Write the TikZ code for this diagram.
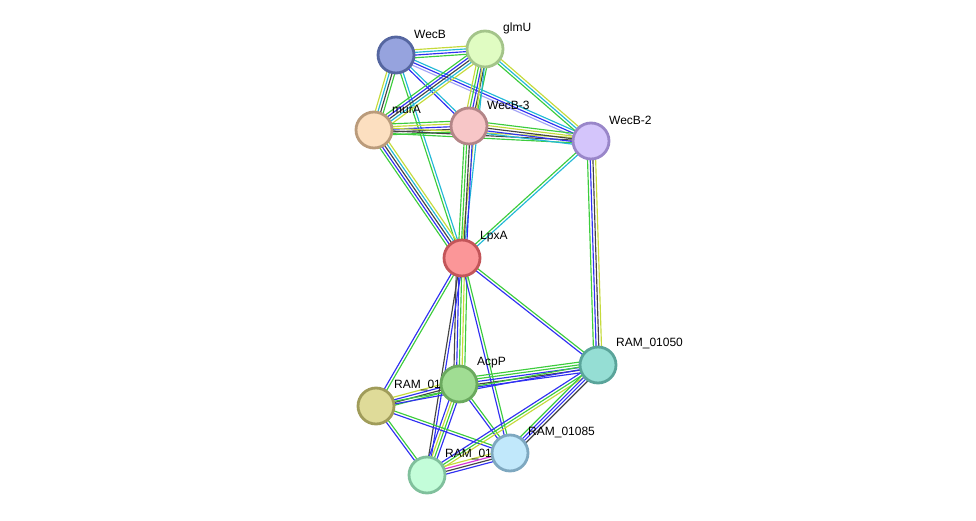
\documentclass[tikz,border=0pt]{standalone}
\usepackage{fontspec}
\setmainfont{Liberation Sans}
\usetikzlibrary{calc,backgrounds}
% evidence colours
\definecolor{evgreen}{HTML}{3DCC3D}
\definecolor{evblue}{HTML}{3030F2}
\definecolor{evcyan}{HTML}{22B8D6}
\definecolor{evyellow}{HTML}{C5DA3A}
\definecolor{evblack}{HTML}{444444}
\definecolor{evlav}{HTML}{A3A3F5}
\definecolor{evmag}{HTML}{D633D6}
% protein colours
\definecolor{wecbfill}{HTML}{96A3DE}\definecolor{wecbdraw}{HTML}{5566A0}
\definecolor{glmufill}{HTML}{E0FCC2}\definecolor{glmudraw}{HTML}{A4C48A}
\definecolor{murafill}{HTML}{FCDFC0}\definecolor{muradraw}{HTML}{BA9B7B}
\definecolor{wecbthfill}{HTML}{F7C6C7}\definecolor{wecbthdraw}{HTML}{B38587}
\definecolor{wecbtwfill}{HTML}{D4C5FB}\definecolor{wecbtwdraw}{HTML}{9986C9}
\definecolor{lpxafill}{HTML}{FB9698}\definecolor{lpxadraw}{HTML}{C35559}
\definecolor{ramafill}{HTML}{95DED4}\definecolor{ramadraw}{HTML}{5AA49A}
\definecolor{acppfill}{HTML}{A0DD93}\definecolor{acppdraw}{HTML}{6AA95E}
\definecolor{rambfill}{HTML}{DFDB99}\definecolor{rambdraw}{HTML}{A09C5A}
\definecolor{ramcfill}{HTML}{C1E8FB}\definecolor{ramcdraw}{HTML}{7EA8C0}
\definecolor{ramdfill}{HTML}{C3FDD9}\definecolor{ramddraw}{HTML}{80C09C}

% parallel evidence lines between two proteins
\newcommand{\evlink}[3]{%
  \foreach \col [count=\i] in {#3} {\xdef\nlines{\i}}
  \foreach \col [count=\i] in {#3} {
    \pgfmathsetmacro{\off}{(\i-(\nlines+1)/2)*2.7}
    \draw[link,color=\col] ($(#1.center)!\off pt!90:(#2.center)$) -- ($(#2.center)!\off pt!-90:(#1.center)$);
  }}

\begin{document}
\begin{tikzpicture}[x=1pt,y=-1pt,
    prot/.style={circle,line width=2.8pt,minimum size=36pt,inner sep=0pt},
    lbl/.style={anchor=west,inner sep=0pt,font=\fontsize{12}{14}\selectfont},
    link/.style={line width=1.15pt}]
  \useasboundingbox (0,0) rectangle (976,521);
  %% proteins
  \node[prot,fill=wecbfill,draw=wecbdraw]     (wecb)   at (396,55)  {};
  \node[prot,fill=glmufill,draw=glmudraw]     (glmu)   at (485,49)  {};
  \node[prot,fill=murafill,draw=muradraw]     (mura)   at (374,130) {};
  \node[prot,fill=wecbthfill,draw=wecbthdraw] (wecbth) at (469,126) {};
  \node[prot,fill=wecbtwfill,draw=wecbtwdraw] (wecbtw) at (591,141) {};
  \node[prot,fill=lpxafill,draw=lpxadraw]     (lpxa)   at (462,258) {};
  \node[prot,fill=ramafill,draw=ramadraw]     (rama)   at (598,365) {};
  \node[prot,fill=rambfill,draw=rambdraw]     (ramb)   at (376,406) {};
  \node[prot,fill=acppfill,draw=acppdraw]     (acpp)   at (459,384) {};
  \node[prot,fill=ramcfill,draw=ramcdraw]     (ramc)   at (510,453) {};
  \node[prot,fill=ramdfill,draw=ramddraw]     (ramd)   at (427,475) {};
  %% labels
  \node[lbl] at ($(wecb)+(18,-21)$)   {WecB};
  \node[lbl] at ($(glmu)+(18,-21)$)   {glmU};
  \node[lbl] at ($(mura)+(18,-21)$)   {murA};
  \node[lbl] at ($(wecbth)+(18,-21)$) {WecB-3};
  \node[lbl] at ($(wecbtw)+(18,-21)$) {WecB-2};
  \node[lbl] at ($(lpxa)+(18,-21)$)   {LpxA};
  \node[lbl] at ($(rama)+(18,-21)$)   {RAM\_01050};
  \node[lbl] at ($(ramb)+(18,-21)$)   {RAM\_01};
  \node[lbl] at ($(acpp)+(18,-21)$)   {AcpP};
  \node[lbl] at ($(ramc)+(18,-21)$)   {RAM\_01085};
  \node[lbl] at ($(ramd)+(18,-21)$)   {RAM\_01};
  %% evidence links
  \begin{scope}[on background layer]
    \evlink{wecb}{glmu}{evgreen,evblue,evcyan,evyellow}
    \evlink{wecb}{mura}{evyellow,evcyan,evblack,evgreen}
    \evlink{wecb}{wecbth}{evblue,evcyan}
    \evlink{wecb}{wecbtw}{evlav,evblue,evcyan}
    \evlink{wecb}{lpxa}{evgreen,evcyan}
    \evlink{glmu}{mura}{evgreen,evblue,evblack,evcyan,evyellow}
    \evlink{glmu}{wecbth}{evyellow,evgreen,evblue,evblack,evgreen}
    \evlink{glmu}{wecbtw}{evgreen,evcyan,evyellow}
    \evlink{glmu}{lpxa}{evyellow,evcyan}
    \evlink{mura}{wecbth}{evgreen,evblack,evblue,evyellow,evgreen}
    \evlink{mura}{wecbtw}{evgreen,evblack,evyellow}
    \evlink{mura}{lpxa}{evgreen,evblue,evblack,evcyan,evyellow}
    \evlink{wecbth}{wecbtw}{evcyan,evblue,evblack,evyellow,evgreen}
    \evlink{wecbth}{lpxa}{evgreen,evgreen,evblack,evblue}
    \evlink{wecbtw}{lpxa}{evgreen,evcyan}
    \evlink{wecbtw}{rama}{evgreen,evblue,evblack,evyellow}
    \evlink{lpxa}{rama}{evblue,evgreen}
    \evlink{lpxa}{acpp}{evblack,evblue,evgreen,evyellow,evgreen}
    \evlink{lpxa}{ramb}{evblue,evgreen}
    \evlink{lpxa}{ramd}{evblack,evblue}
    \evlink{lpxa}{ramc}{evblue,evgreen}
    \evlink{acpp}{rama}{evblue,evblack,evblue,evgreen,evgreen}
    \evlink{acpp}{ramb}{evyellow,evblue,evblack,evgreen}
    \evlink{acpp}{ramd}{evblue,evyellow,evgreen,evblue}
    \evlink{acpp}{ramc}{evblue,evgreen}
    \evlink{ramb}{rama}{evblue,evgreen}
    \evlink{ramb}{ramc}{evblue,evgreen}
    \evlink{ramb}{ramd}{evblue,evgreen}
    \evlink{ramd}{rama}{evyellow,evgreen,evblue}
    \evlink{ramd}{ramc}{evblue,evblack,evmag,evyellow}
    \evlink{ramc}{rama}{evblack,evblue,evblue,evgreen}
  \end{scope}
\end{tikzpicture}
\end{document}
